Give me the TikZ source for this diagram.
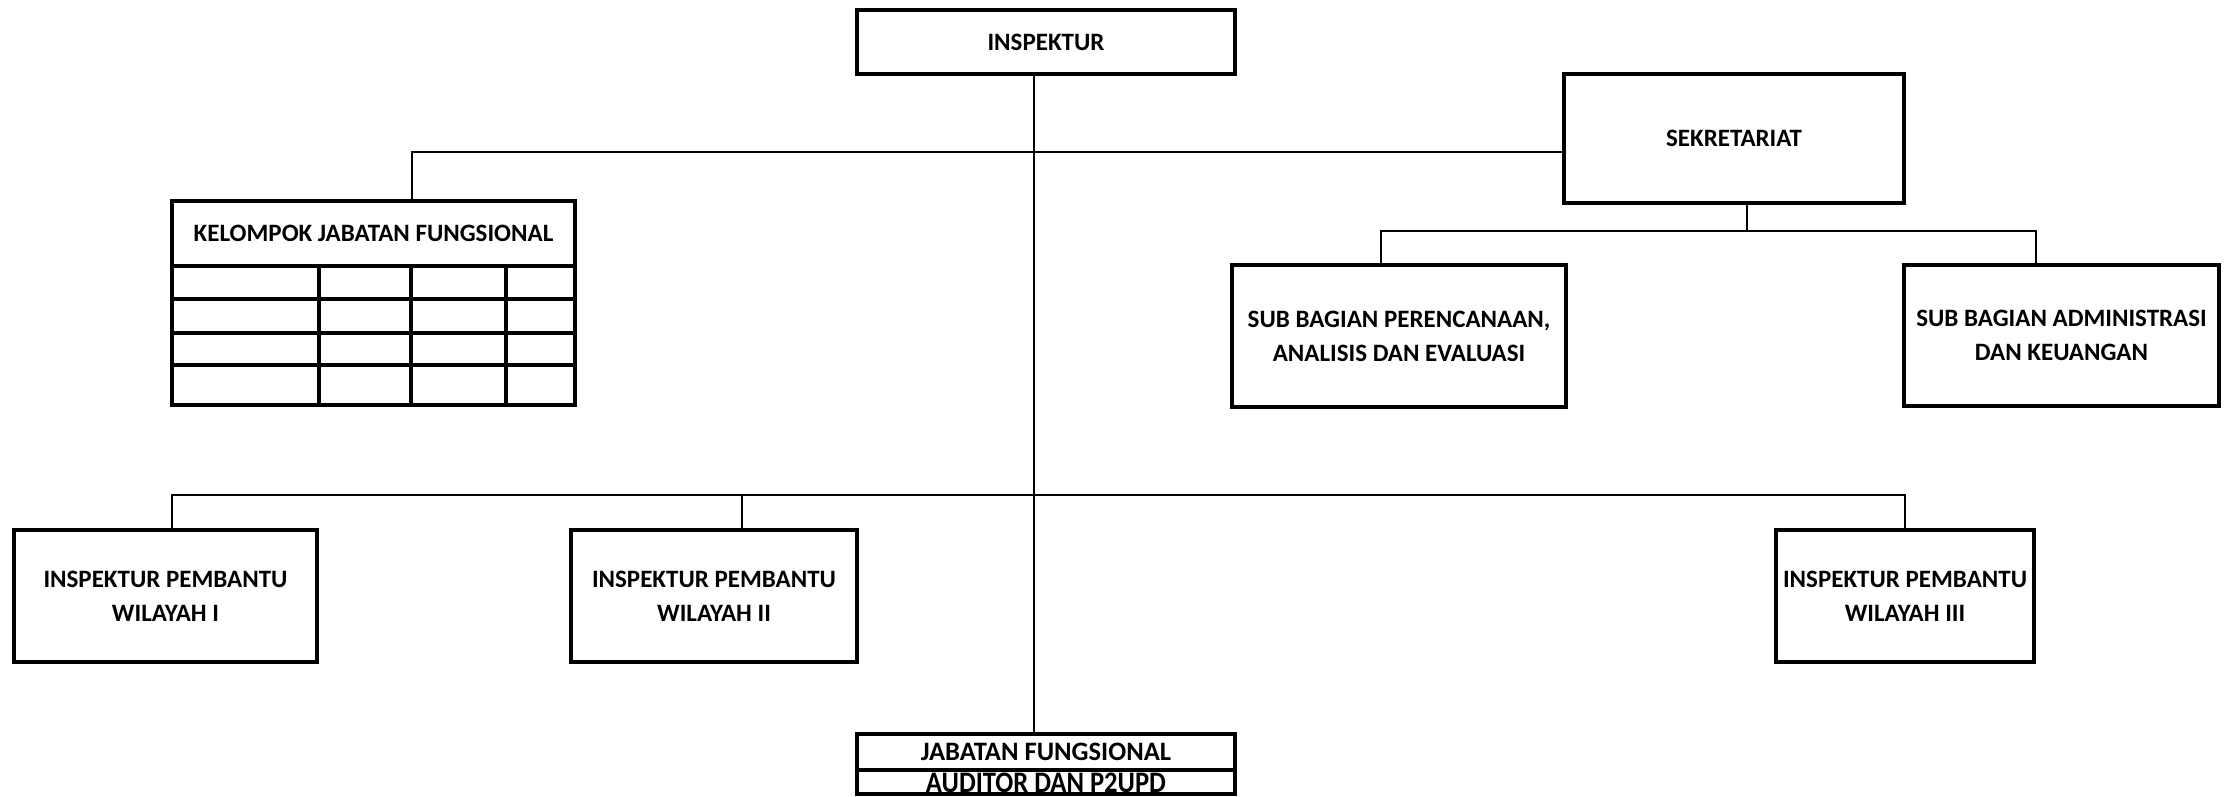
\documentclass[tikz,border=0pt]{standalone}
\usepackage{fontspec}
\setmainfont{Carlito}
\newcommand\orgfont{\bfseries\fontsize{12.5}{17}\selectfont}
\newcommand\jffont{\bfseries\fontsize{13.3}{16}\selectfont}
\begin{document}
\begin{tikzpicture}[x=0.5pt,y=-0.5pt,
  box/.style={draw, line width=2pt, inner sep=0pt, align=center, font=\orgfont},
  link/.style={line width=1.3pt},
  grid/.style={line width=1.6pt}]
\useasboundingbox (0,0) rectangle (2226,797);

% top level
\node[box, minimum width=189pt, minimum height=32pt] (insp) at (1046,42) {INSPEKTUR};
\node[box, minimum width=170pt, minimum height=64.5pt] (sek) at (1734,138.5) {SEKRETARIAT};

% secretariat sub-units
\node[box, minimum width=167pt, minimum height=71pt] (sbp) at (1399,336) {SUB BAGIAN PERENCANAAN,\\ANALISIS DAN EVALUASI};
\node[box, minimum width=157.5pt, minimum height=70.5pt] (sba) at (2061.5,335.5) {SUB BAGIAN ADMINISTRASI\\DAN KEUANGAN};

% functional group table
\node[box, minimum width=201.5pt, minimum height=32.5pt] (kjf) at (373.5,233.5) {KELOMPOK JABATAN FUNGSIONAL};
\draw[grid] (172,299) -- (575,299);
\draw[grid] (172,333) -- (575,333);
\draw[grid] (172,365) -- (575,365);
\draw[grid] (319,266) -- (319,405);
\draw[grid] (411,266) -- (411,405);
\draw[grid] (506,266) -- (506,405);
\draw[line width=2pt] (172,266) rectangle (575,405);

% regional assistant inspectors
\node[box, minimum width=151.5pt, minimum height=66pt] (ip1) at (165.5,596) {INSPEKTUR PEMBANTU\\WILAYAH I};
\node[box, minimum width=143pt, minimum height=66pt] (ip2) at (714,596) {INSPEKTUR PEMBANTU\\WILAYAH II};
\node[box, minimum width=129pt, minimum height=66pt] (ip3) at (1905,596) {INSPEKTUR PEMBANTU\\WILAYAH III};

% auditor group at the bottom; second line fills its thin cell
\node[font=\jffont, inner sep=0pt, anchor=base] (audtxt) at (1046,792) {\scalebox{1}[1.12]{AUDITOR DAN P2UPD}};
\node[box, font=\jffont, minimum width=189pt, minimum height=18pt] (jf) at (1046,752) {JABATAN FUNGSIONAL};
\node[draw, line width=2pt, inner sep=0pt, minimum width=189pt, minimum height=12pt] (aud) at (1046,782) {};

% connectors
\coordinate (spine) at (1034,0);
\coordinate (busA) at (412,152);
\coordinate (busB) at (1747,231);
\coordinate (busC) at (172,495);

\draw[link] (insp.south -| spine) -- (jf.north -| spine);
\draw[link] (kjf.north -| busA) -- (busA) -- (sek.west |- busA);
\draw[link] (sek.south -| busB) -- (busB);
\draw[link] (sbp.north -| 1381,0) |- (busB) -| (sba.north -| 2036,0);
\draw[link] (ip1.north -| busC) -- (busC) -| (ip3.north);
\draw[link] (ip2.north -| 742,0) -- (742,495);
\end{tikzpicture}
\end{document}
